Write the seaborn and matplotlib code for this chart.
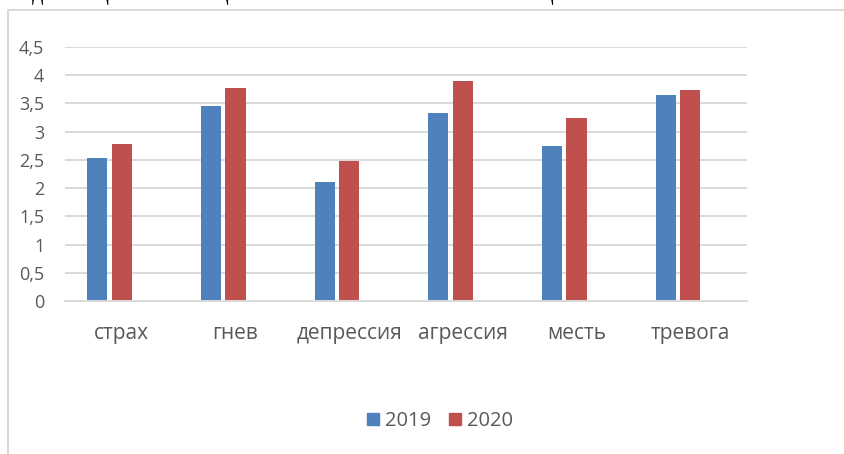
import pandas as pd
import matplotlib.pyplot as plt
import seaborn as sns
from matplotlib.lines import Line2D

# Data
categories = ['страх', 'гнев', 'депрессия', 'агрессия', 'месть', 'тревога']
years = ['2019', '2020']
values_2019 = [2.54, 3.45, 2.10, 3.33, 2.74, 3.65]
values_2020 = [2.78, 3.78, 2.48, 3.89, 3.24, 3.74]
y_ticks = [0, 0.5, 1, 1.5, 2, 2.5, 3, 3.5, 4, 4.5]
y_tick_labels = ['0', '0,5', '1', '1,5', '2', '2,5', '3', '3,5', '4', '4,5']

df = pd.DataFrame({
    'category': categories * 2,
    'year': [years[0]] * len(categories) + [years[1]] * len(categories),
    'value': values_2019 + values_2020,
})

sns.set_theme(style='white')
plt.rcParams['font.family'] = ['Open Sans', 'DejaVu Sans']

fig = plt.figure(figsize=(8.44, 4.54), dpi=100)
ax = fig.add_axes([65 / 844, 1 - 301 / 454, 682 / 844, 254 / 454])

# the source chart has an empty third series, which shifts the pair left
palette = {'2019': '#4F81BD', '2020': '#C0504D', 'empty': '#9BBB59'}
sns.barplot(data=df, x='category', y='value', hue='year',
            hue_order=['2019', '2020', 'empty'], palette=palette, saturation=1,
            width=0.646, gap=0.18, linewidth=0, ax=ax, legend=False)

ax.set_ylim(0, 4.5)
ax.set_xlim(-0.5, len(categories) - 0.5)
ax.set_yticks(y_ticks)
ax.set_yticklabels(y_tick_labels)
ax.yaxis.grid(True, color='#D9D9D9', linewidth=1.4)
ax.set_axisbelow(True)
for side in ['top', 'right', 'left']:
    ax.spines[side].set_visible(False)
ax.spines['bottom'].set_color('#D9D9D9')
ax.spines['bottom'].set_linewidth(1.4)
ax.tick_params(axis='both', length=0, colors='#595959')
ax.tick_params(axis='y', labelsize=13, pad=15)
ax.tick_params(axis='x', labelsize=15, pad=16)
ax.set_xlabel('')
ax.set_ylabel('')

# legend below the chart
handles = [plt.Rectangle((0, 0), 1, 1, color=palette[y]) for y in years]
fig.legend(handles, years, loc='center', bbox_to_anchor=(440 / 844, 1 - 421 / 454),
           ncol=2, frameon=False, fontsize=14.5, handlelength=0.6, handleheight=0.6,
           handletextpad=0.3, columnspacing=0.9, labelcolor='#595959')

# chart frame (clipped by the page)
fig.add_artist(Line2D([8 / 844, 8 / 844], [0, 1 - 10 / 454], color='#D9D9D9', linewidth=1.5))
fig.add_artist(Line2D([8 / 844, 1], [1 - 10 / 454, 1 - 10 / 454], color='#D9D9D9', linewidth=1.5))

# cut-off document text at the top
fig.text(0.0, 1 + 4 / 454, 'ла  для  социально-эмоционального   —',
         fontsize=16, family=['Liberation Serif'], color='#000000', va='center', ha='left')
fig.text(432 / 844, 1 + 4 / 454, 'мнения эмоционального состояния',
         fontsize=16, family=['Liberation Serif'], color='#000000', va='center', ha='left')

fig.savefig('out.png', dpi=100)
